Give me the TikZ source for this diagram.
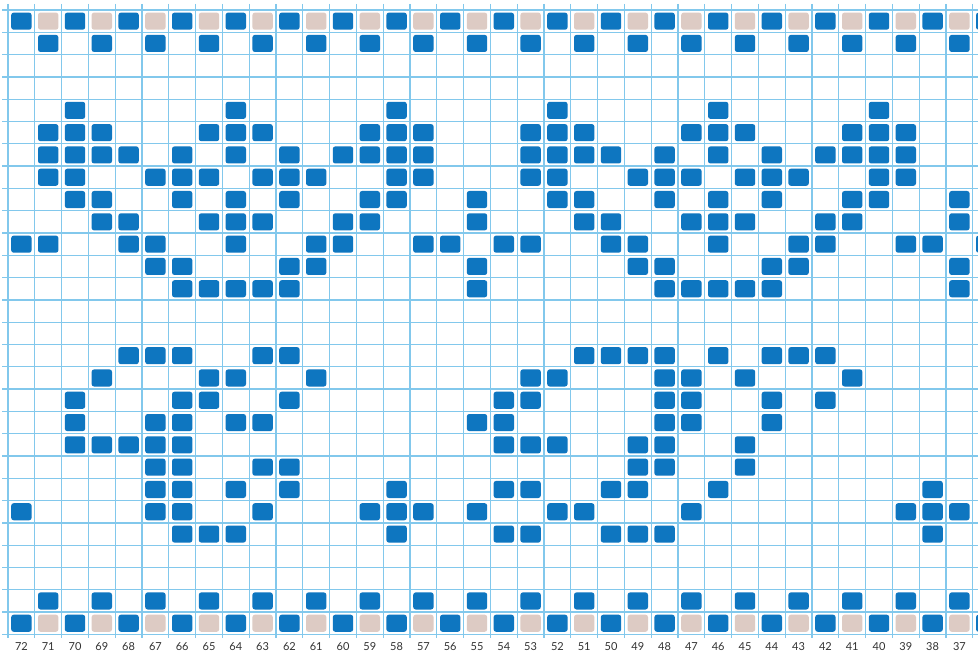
\documentclass[tikz,border=0pt]{standalone}
\usepackage{fontspec}
\setsansfont{Lato}
\usetikzlibrary{positioning}
\definecolor{gridblue}{RGB}{130,200,236}
\definecolor{yarnblue}{RGB}{14,118,192}
\definecolor{yarnbeige}{RGB}{221,203,196}
\definecolor{numgray}{RGB}{50,50,50}
% one stitch: column #1 (0 = needle 72), row #2 (1 = top), colour #3
\newcommand{\knit}[3]{\fill[#3, stitchbox] ({8+#1*26.8+3.2},{10+(#2-1)*22.3+2.6}) rectangle ({8+(#1+1)*26.8-3.2},{10+#2*22.3-2.6});}

\begin{document}
\begin{tikzpicture}[x=1pt,y=-1pt,
    stitchbox/.style={rounded corners=2.5pt},
    colnum/.style={font=\sffamily\fontsize{11}{12}\selectfont, text=numgray, inner sep=0pt}]
    \clip (0,0) rectangle (978,655);
    \fill[white] (0,0) rectangle (978,655);
    % grid paper
    \foreach \k in {0,...,37} {
        \draw[gridblue, line width=1.3pt] ({8+\k*26.8},4) -- ({8+\k*26.8},638);
    }
    \foreach \j in {0,...,28} {
        \draw[gridblue, line width=1.3pt] (2,{10+\j*22.3}) -- (978,{10+\j*22.3});
    }
    % border rows
    \foreach \c in {0,2,...,36} {
        \knit{\c}{1}{yarnblue}
        \knit{\c}{28}{yarnblue}
    }
    \foreach \c in {1,3,...,35} {
        \knit{\c}{1}{yarnbeige}
        \knit{\c}{28}{yarnbeige}
        \knit{\c}{2}{yarnblue}
        \knit{\c}{27}{yarnblue}
    }
    % motifs
    \foreach \r/\cols in {
        5/{2,8,14,20,26,32},
        6/{1,2,3,7,8,9,13,14,15,19,20,21,25,26,27,31,32,33},
        7/{1,2,3,4,6,8,10,12,13,14,15,19,20,21,22,24,26,28,30,31,32,33},
        8/{1,2,5,6,7,9,10,11,14,15,19,20,23,24,25,27,28,29,32,33},
        9/{2,3,6,8,10,13,14,17,20,21,24,26,28,31,32,35},
        10/{3,4,7,8,9,12,13,17,21,22,25,26,27,30,31,35},
        11/{0,1,4,5,8,11,12,15,16,18,19,22,23,26,29,30,33,34,36},
        12/{5,6,10,11,17,23,24,28,29,35},
        13/{6,7,8,9,10,17,24,25,26,27,28,35},
        16/{4,5,6,9,10,21,22,23,24,26,28,29,30},
        17/{3,7,8,11,19,20,24,25,27,31},
        18/{2,6,7,10,18,19,24,25,28,30},
        19/{2,5,6,8,9,17,18,24,25,28},
        20/{2,3,4,5,6,18,19,20,23,24,27},
        21/{5,6,9,10,23,24,27},
        22/{5,6,8,10,14,18,19,22,23,26,34},
        23/{0,5,6,9,13,14,15,17,20,21,25,33,34,35},
        24/{6,7,8,14,18,19,22,23,24,34}} {
        \foreach \c in \cols {
            \knit{\c}{\r}{yarnblue}
        }
    }
    % needle numbers
    \foreach \c in {0,...,35} {
        \pgfmathtruncatemacro{\n}{72-\c}
        \node[colnum] (n\n) at ({21.4+\c*26.8},646.5) {\n};
    }
\end{tikzpicture}
\end{document}
